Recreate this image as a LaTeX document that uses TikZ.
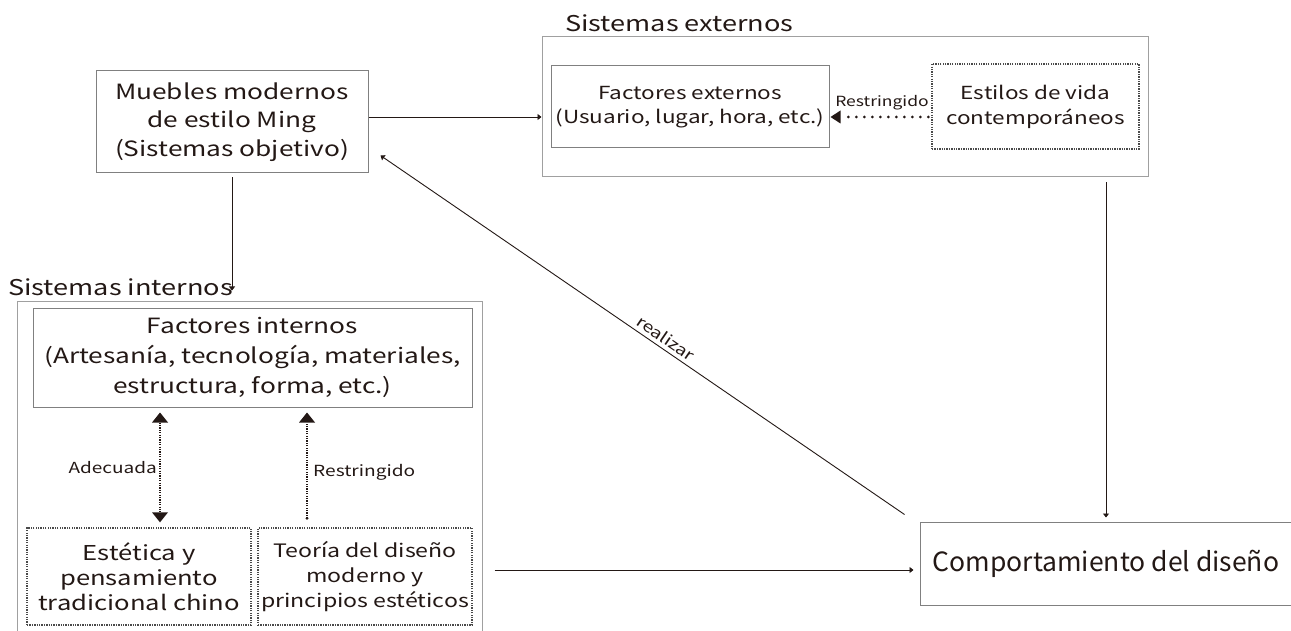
\documentclass[tikz,border=0pt]{standalone}
\usepackage{fontspec}
\setmainfont{Noto Sans CJK SC}
\newfontfamily\wf{Noto Sans CJK SC}[FakeStretch=1.25]
\newfontfamily\nf{Noto Sans CJK SC}
\usetikzlibrary{arrows.meta,calc}
\definecolor{ink}{HTML}{231815}
\definecolor{boxgray}{HTML}{808080}
\definecolor{contgray}{HTML}{A0A0A0}
\definecolor{dotgray}{HTML}{4A4A4A}
\tikzset{
  solidbox/.style={draw=boxgray, line width=1pt, inner sep=0pt, align=center, text=ink},
  contbox/.style={draw=contgray, line width=1pt, inner sep=0pt},
  dotbox/.style={draw=dotgray, line width=1.3pt, dash pattern=on 1.3pt off 1.1pt, inner sep=0pt, align=center, text=ink},
  arr/.style={draw=ink, line width=0.9pt, -{Triangle[length=4pt,width=6pt]}},
  bigdot/.style={draw=ink, line width=3pt, line cap=round, dash pattern=on 0pt off 8pt},
  finedot/.style={draw=ink, line width=1.6pt, dash pattern=on 1.2pt off 1.2pt},
  lbl/.style={text=ink, inner sep=0pt},
}
\begin{document}
\begin{tikzpicture}[x=1pt,y=-1pt]
\useasboundingbox (0,0) rectangle (1291,631);
\fill[white] (0,0) rectangle (1291,631);
% containers
\node[contbox, minimum width=606pt, minimum height=140pt] (sext) at (845,107) {};
\node[contbox, minimum width=465pt, minimum height=344pt] (sint) at (249.5,473) {};
% titles
\node[lbl, anchor=base west, font=\wf\fontsize{21.7}{25}\selectfont] (text) at (565,32) {Sistemas externos};
\node[lbl, anchor=base west, font=\wf\fontsize{21.7}{25}\selectfont] (tint) at (8,295) {Sistemas internos};
% boxes
\node[solidbox, minimum width=272pt, minimum height=102pt, font=\wf\fontsize{21}{28.5}\selectfont] (mu) at (232,122) {Muebles modernos\\de estilo Ming\\(Sistemas objetivo)};
\node[solidbox, minimum width=278pt, minimum height=82pt, font=\wf\fontsize{18}{24}\selectfont] (fext) at (690,107) {Factores externos\\(Usuario, lugar, hora, etc.)};
\node[dotbox, minimum width=207pt, minimum height=85pt, font=\wf\fontsize{18}{25}\selectfont] (est) at (1035.5,106.5) {Estilos de vida\\contemporáneos};
\node[solidbox, minimum width=372pt, minimum height=83pt, font=\nf\fontsize{26.5}{30}\selectfont] (comp) at (1106,563.5) {Comportamiento del diseño};
\node[solidbox, minimum width=439pt, minimum height=99pt, font=\wf\fontsize{21}{30}\selectfont] (fint) at (252.5,357.5) {Factores internos\\(Artesanía, tecnología, materiales,\\estructura, forma, etc.)};
\node[dotbox, minimum width=224pt, minimum height=97pt, font=\wf\fontsize{20.5}{25}\selectfont] (este) at (139,576.5) {Estética y\\pensamiento\\tradicional chino};
\node[dotbox, minimum width=214pt, minimum height=97pt, font=\wf\fontsize{18.5}{25}\selectfont] (teo) at (365,576.5) {Teoría del diseño\\moderno y\\principios estéticos};
% connectors
\draw[arr] ([yshift=5pt]mu.east) -- ([yshift=5pt]mu.east -| sext.west);
\draw[arr] ([yshift=-5pt]comp.north |- sext.south) -- ([yshift=4pt]comp.north);
\draw[arr] ([shift={(-15pt,7pt)}]comp.north west) -- ([shift={(12pt,18pt)}]mu.south east);
\node[lbl, rotate=-34.4, font=\wf\fontsize{15.5}{17}\selectfont] (real) at (666,338) {realizar};
\draw[arr] ([yshift=-4pt]mu.south) -- ([yshift=10pt]mu.south |- sint.north);
\draw[arr] ($(sint.east |- comp.west)+(12pt,-6.5pt)$) -- ($(comp.west)+(-6pt,-6.5pt)$);
% dotted: estilos -> factores externos
\coordinate (e1) at ($(est.west)+(-3pt,-10.5pt)$);
\coordinate (e2) at ($(fext.east)+(12pt,-10pt)$);
\draw[bigdot] (e1) -- (e2);
\fill[ink] ($(fext.east)+(1pt,-10pt)$) -- ++(10pt,-6.5pt) -- ++(0,13pt) -- cycle;
\node[lbl, anchor=base, font=\wf\fontsize{14}{16}\selectfont] at (882,107) {Restringido};
% adecuada
\coordinate (a1) at ($(fint.south)+(-92.5pt,-15pt)$);
\coordinate (a2) at ($(este.north)+(21pt,15pt)$);
\draw[finedot] (a1) -- (a2);
\fill[ink] ($(fint.south)+(-92.5pt,-5pt)$) -- ++(-8pt,-10pt) -- ++(16pt,0) -- cycle;
\fill[ink] ($(este.north)+(21pt,5pt)$) -- ++(-8pt,10pt) -- ++(16pt,0) -- cycle;
\node[lbl, anchor=base east, font=\wf\fontsize{15.2}{17}\selectfont] at (157,473) {Adecuada};
% restringido interno
\coordinate (r1) at ($(teo.north)+(-58pt,9pt)$);
\coordinate (r2) at ($(fint.south -| r1)+(0,-15pt)$);
\draw[finedot] (r1) -- (r2);
\fill[ink] (r1) circle (1.6pt);
\fill[ink] ($(fint.south -| r1)+(0,-5pt)$) -- ++(-8pt,-10pt) -- ++(16pt,0) -- cycle;
\node[lbl, anchor=base west, font=\wf\fontsize{15.3}{17}\selectfont] at (313,476) {Restringido};
\end{tikzpicture}
\end{document}
